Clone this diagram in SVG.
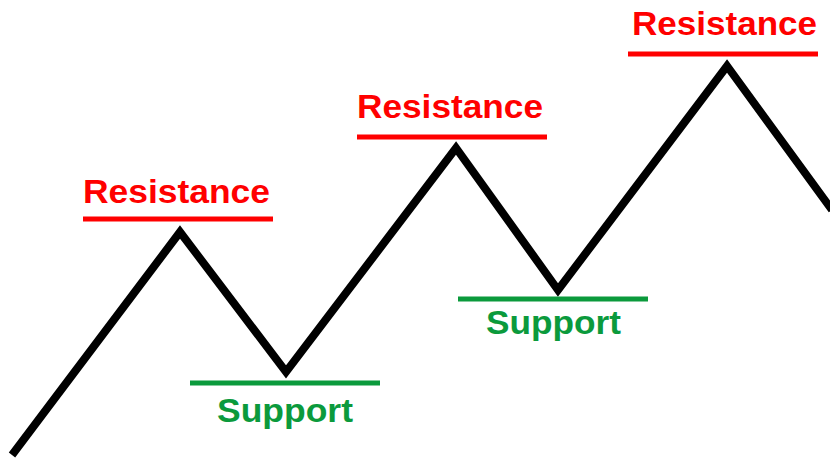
<svg xmlns="http://www.w3.org/2000/svg" width="830" height="461" viewBox="0 0 830 461">
<style>
.res{fill:#ff0000;font-family:"Liberation Sans",Arial,sans-serif;font-weight:bold;font-size:34px}
.sup{fill:#0b9a3c;font-family:"Liberation Sans",Arial,sans-serif;font-weight:bold;font-size:34px}
.rl{stroke:#ff0000;stroke-width:5}
.gl{stroke:#0b9a3c;stroke-width:5}
.price{fill:none;stroke:#000;stroke-width:8;stroke-linejoin:miter;stroke-miterlimit:10}
</style>
<rect width="830" height="461" fill="#fff"/>
<g id="connectors">
<polyline class="price" points="12,455 180,232 286,372 456,148 558,290 727,66 832,210"/>
</g>
<g id="resistance1">
<line class="rl" x1="83" y1="219" x2="273" y2="219"/>
<text class="res" x="83" y="203" textLength="187" lengthAdjust="spacingAndGlyphs">Resistance</text>
</g>
<g id="support1">
<line class="gl" x1="190" y1="383" x2="380" y2="383"/>
<text class="sup" x="217" y="422" textLength="136" lengthAdjust="spacingAndGlyphs">Support</text>
</g>
<g id="resistance2">
<line class="rl" x1="357" y1="137" x2="547" y2="137"/>
<text class="res" x="357" y="118" textLength="186" lengthAdjust="spacingAndGlyphs">Resistance</text>
</g>
<g id="support2">
<line class="gl" x1="458" y1="299" x2="648" y2="299"/>
<text class="sup" x="486" y="334" textLength="135" lengthAdjust="spacingAndGlyphs">Support</text>
</g>
<g id="resistance3">
<line class="rl" x1="628" y1="54" x2="818" y2="54"/>
<text class="res" x="632" y="35" textLength="185" lengthAdjust="spacingAndGlyphs">Resistance</text>
</g>
</svg>
